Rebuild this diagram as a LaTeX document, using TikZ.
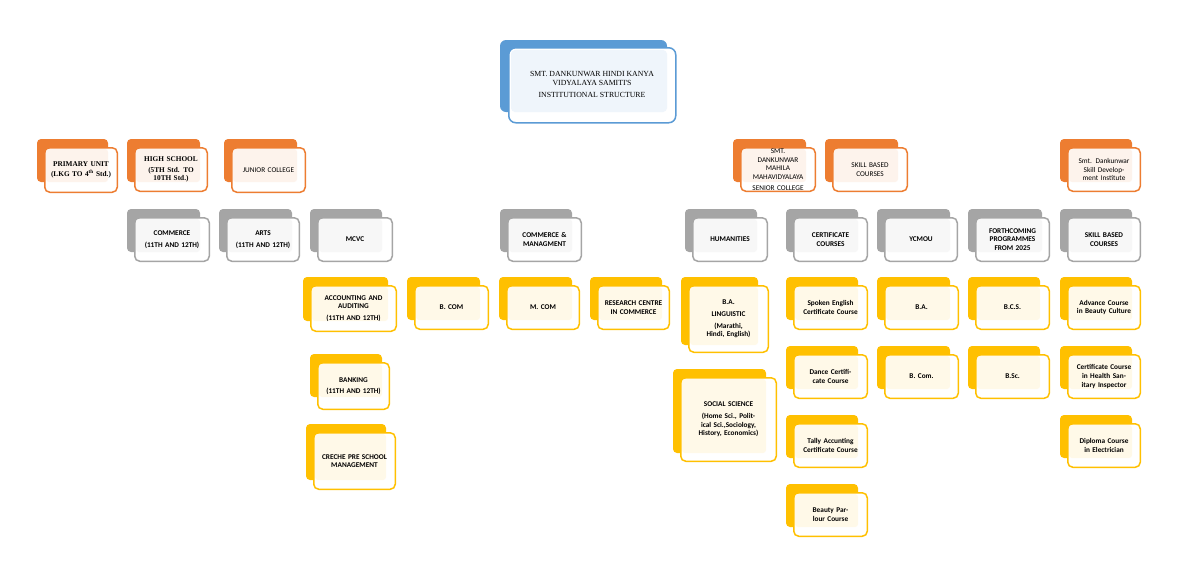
\documentclass[tikz,border=0pt]{standalone}
\usepackage{fontspec}
\setmainfont{Carlito}
\newfontfamily\serifx{Liberation Serif}
\pgfdeclarelayer{background}\pgfsetlayers{background,main}
\definecolor{cor}{HTML}{ED7D31}
\definecolor{cgr}{HTML}{A5A5A5}
\definecolor{cye}{HTML}{FFC000}
\definecolor{cbl}{HTML}{5B9BD5}
\newcommand\ent[9]{%
 \fill[#2,rounded corners=4pt] (#3,#4) rectangle (#5,#6);
 \node[draw=#2,line width=1.5pt,fill=white,rounded corners=5pt,anchor=north west,inner sep=0pt,
   minimum width={#7-#3-8.5}, minimum height={#8-#4-9.5}] (#1) at ({#3+7},{#4+8}) {};
 \fill[#2!9,rounded corners=3pt] ({#3+9},{#4+10}) rectangle (#5,#6);
 \node[align=center,text width={#7-#3-16},inner sep=0pt,font=\fontsize{7.3}{8.6}\selectfont\bfseries] (#1t) at (#1.center) {#9};
}
\tikzset{
 conO/.style={cor,line width=2pt},
 conG/.style={cgr,line width=1.8pt},
 conY/.style={cye,line width=1.8pt}}
\begin{document}
\begin{tikzpicture}[x=1pt,y=-1pt]
\useasboundingbox[fill=white] (0,0) rectangle (1198,582);
% top
\fill[cbl,rounded corners=6pt] (500,40) rectangle (667,112);
\node[draw=cbl,line width=1.5pt,fill=white,rounded corners=7pt,anchor=north west,minimum width=167,minimum height=75,inner sep=0pt] (top) at (508,47) {};
\fill[cbl!10,rounded corners=4pt] (511,50) rectangle (667,112);
\node[align=center,inner sep=0pt,font=\serifx\fontsize{7.8}{9}\selectfont] (topt) at (592,84) {SMT. DANKUNWAR HINDI KANYA\\VIDYALAYA SAMITI'S\\[3pt]INSTITUTIONAL STRUCTURE};
% level 1
\ent{pri}{cor}{37}{139}{108}{182}{118}{193}{\serifx PRIMARY UNIT\\[2pt](LKG TO 4\textsuperscript{th} Std.)}
\ent{hs}{cor}{127}{139}{200}{182}{208}{192}{\serifx HIGH SCHOOL\\[2pt](5TH Std. TO 10TH Std.)}
\ent{jc}{cor}{224}{139}{297}{182}{306}{193}{\mdseries JUNIOR COLLEGE}
\ent{mm}{cor}{733}{139}{806}{182}{816}{192}{\mdseries SMT.\\DANKUNWAR\\MAHILA\\MAHAVIDYALAYA\\[2pt]SENIOR COLLEGE}
\ent{sk}{cor}{825}{139}{898}{182}{908}{192}{\mdseries SKILL BASED\\COURSES}
\ent{sd}{cor}{1060}{139}{1132}{182}{1141}{192}{\mdseries Smt. Dankunwar Skill Development Institute}
% level 2
\ent{com}{cgr}{127}{209}{200}{252}{210}{262}{COMMERCE\\[3pt](11TH AND 12TH)}
\ent{arts}{cgr}{219}{209}{292}{252}{300}{262}{ARTS\\[3pt](11TH AND 12TH)}
\ent{mcvc}{cgr}{310}{209}{382}{252}{393}{262}{MCVC}
\ent{cm}{cgr}{500}{209}{572}{252}{582}{262}{COMMERCE \&\\MANAGMENT}
\ent{hum}{cgr}{685}{209}{757}{252}{768}{262}{HUMANITIES}
\ent{cc}{cgr}{786}{209}{858}{252}{868}{262}{CERTIFICATE\\COURSES}
\ent{yc}{cgr}{877}{209}{950}{252}{958}{262}{YCMOU}
\ent{fp}{cgr}{968}{209}{1042}{252}{1050}{262}{FORTHCOMING\\PROGRAMMES\\FROM 2025}
\ent{sb}{cgr}{1060}{209}{1132}{252}{1141}{262}{SKILL BASED\\COURSES}
% level 3
\ent{acc}{cye}{303}{277}{388}{321}{397}{332}{ACCOUNTING AND\\AUDITING\\[3pt](11TH AND 12TH)}
\ent{bcom}{cye}{407}{277}{480}{320}{489}{330}{B. COM}
\ent{mcom}{cye}{499}{277}{572}{320}{580}{330}{M. COM}
\ent{rc}{cye}{590}{277}{662}{320}{670}{330}{RESEARCH CENTRE IN COMMERCE}
\ent{bal}{cye}{681}{277}{758}{345}{769}{353}{B.A.\\[3pt]LINGUISTIC\\[3pt](Marathi, Hindi, English)}
\ent{se}{cye}{786}{277}{858}{320}{868}{330}{Spoken English Certificate Course}
\ent{ba}{cye}{877}{277}{950}{320}{959}{330}{B.A.}
\ent{bcs}{cye}{968}{277}{1040}{320}{1050}{330}{B.C.S.}
\ent{adv}{cye}{1060}{277}{1132}{320}{1141}{330}{Advance Course in Beauty Culture}
% level 4
\ent{bank}{cye}{310}{354}{382}{397}{390}{410}{BANKING\\[3pt](11TH AND 12TH)}
\ent{cre}{cye}{306}{424}{386}{480}{396}{490}{CRECHE PRE SCHOOL MANAGEMENT}
\ent{ss}{cye}{673}{369}{766}{453}{777}{462}{SOCIAL SCIENCE\\[3pt](Home Sci., Political Sci.,Sociology, History, Economics)}
\ent{dc}{cye}{786}{346}{858}{389}{868}{399}{Dance Certificate Course}
\ent{tally}{cye}{786}{415}{858}{458}{868}{468}{Tally Accunting Certificate Course}
\ent{bp}{cye}{786}{484}{858}{527}{868}{537}{Beauty Parlour Course}
\ent{bcm}{cye}{877}{346}{950}{389}{959}{399}{B. Com.}
\ent{bsc}{cye}{968}{346}{1040}{389}{1050}{399}{B.Sc.}
\ent{chs}{cye}{1060}{346}{1132}{389}{1141}{399}{Certificate Course in Health Sanitary Inspector}
\ent{dip}{cye}{1060}{415}{1132}{458}{1141}{468}{Diploma Course in Electrician}
% connectors
\begin{pgfonlayer}{background}
\foreach \c in {pri,hs,jc,mm,sk,sd}
  \draw[conO] (top.south) -- (top.south |- 0,129) -| (\c.north);
\foreach \c in {com,arts,mcvc}
  \draw[conG] (jc.south) -- (jc.south |- 0,202) -| (\c.north);
\foreach \c in {cm,hum,cc,yc,fp}
  \draw[conG] (mm.south) -- (mm.south |- 0,202) -| (\c.north);
\draw[conG] (sd.south) -- (sb.north);
\foreach \c in {bcom,mcom,rc}
  \draw[conY] (cm.south) -- (cm.south |- 0,269) -| (\c.north);
\draw[conY] (mcvc.south) -- (acc.north);
\draw[conY] (acc.south) -- (bank.north);
\draw[conY] (bank.south) -- (cre.north);
\draw[conY] (hum.south) -- (bal.north);
\draw[conY] (bal.south) -- (ss.north);
\draw[conY] (cc.south) -- (se.north);
\draw[conY] (se.south) -- (dc.north);
\draw[conY] (dc.south) -- (tally.north);
\draw[conY] (tally.south) -- (bp.north);
\draw[conY] (yc.south) -- (ba.north);
\draw[conY] (ba.south) -- (bcm.north);
\draw[conY] (fp.south) -- (bcs.north);
\draw[conY] (bcs.south) -- (bsc.north);
\draw[conY] (sb.south) -- (adv.north);
\draw[conY] (adv.south) -- (chs.north);
\draw[conY] (chs.south) -- (dip.north);
\end{pgfonlayer}
\end{tikzpicture}
\end{document}
